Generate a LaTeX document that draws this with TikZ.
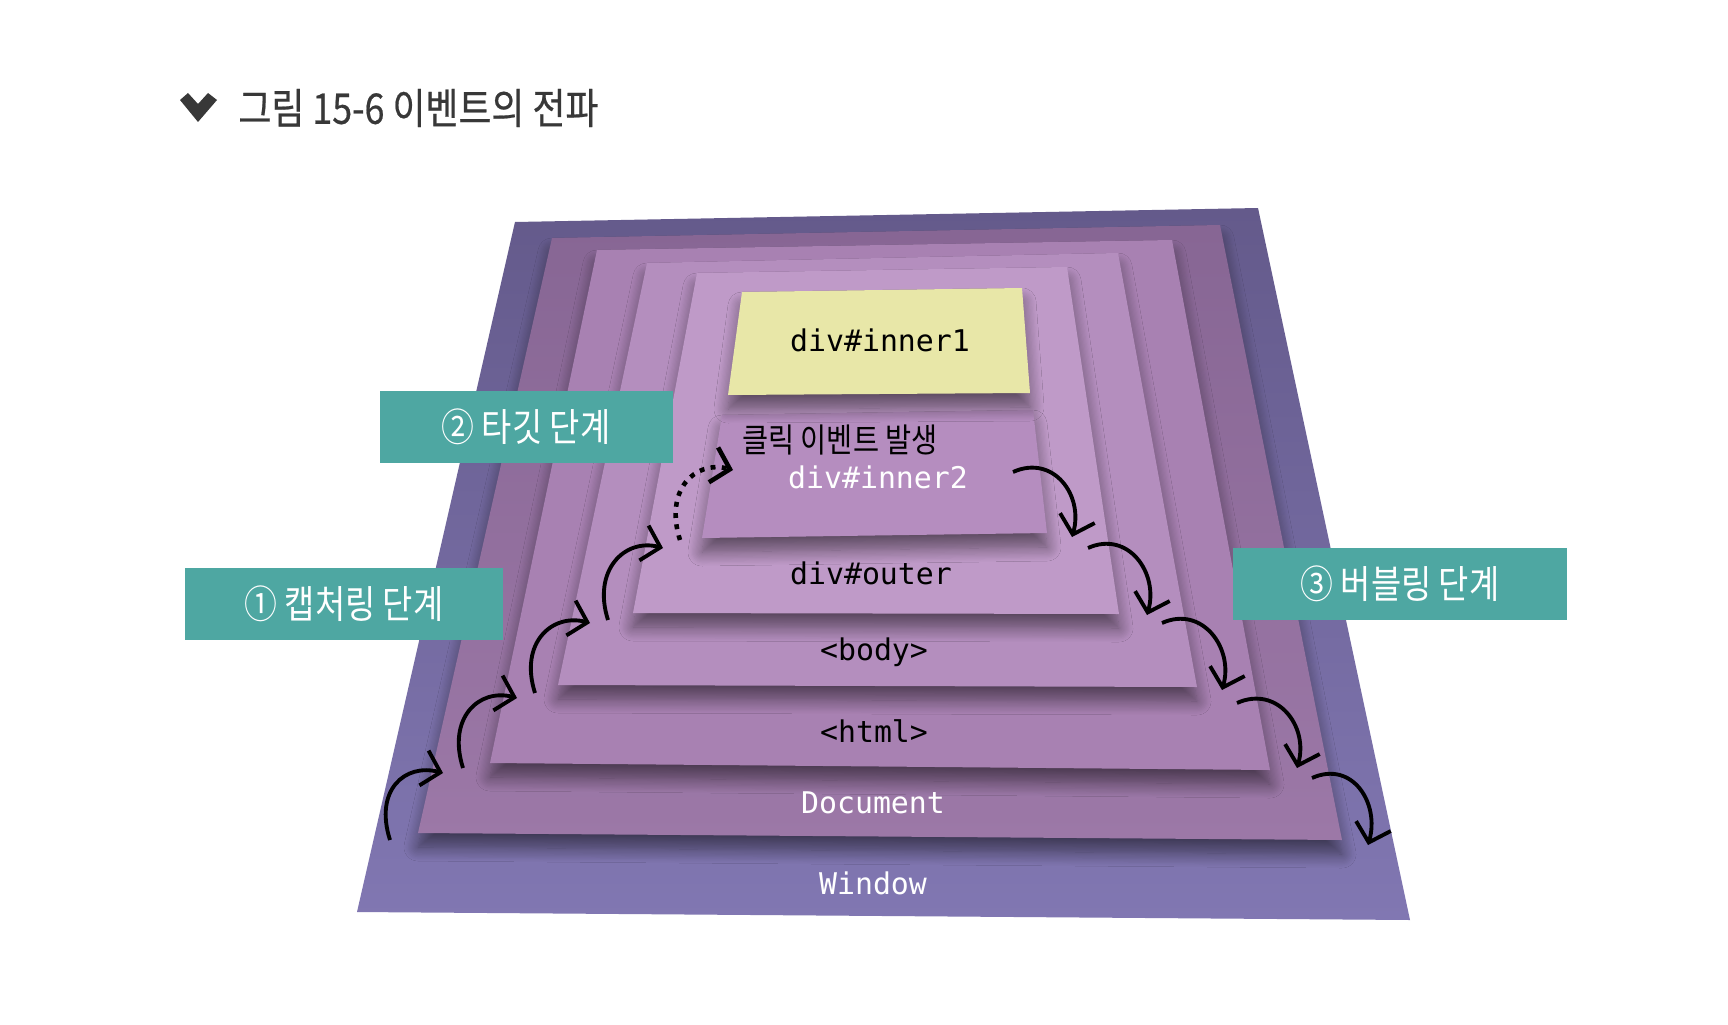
\documentclass[tikz,border=0pt]{standalone}
\usepackage{fontspec}
\setmonofont{DejaVu Sans Mono}
\newfontfamily\kfont{Noto Sans CJK KR}[FakeStretch=0.85]
\newfontfamily\tfont{Noto Sans CJK KR}[FakeStretch=0.85,FakeBold=0.5]
\usepackage{tikz}
\usetikzlibrary{arrows.meta,shadows.blur}

\definecolor{windowc}{HTML}{8177B2}
\definecolor{windowd}{HTML}{645A8B}
\definecolor{documentc}{HTML}{9C78A7}
\definecolor{documentd}{HTML}{876694}
\definecolor{htmlc}{HTML}{A881B2}
\definecolor{bodyc}{HTML}{B48EBE}
\definecolor{outerc}{HTML}{BF9AC8}
\definecolor{innerc}{HTML}{B58DBF}
\definecolor{targetc}{HTML}{E8E7A8}
\definecolor{phasec}{HTML}{4EA7A2}
\definecolor{titlec}{HTML}{383838}

\begin{document}
\begin{tikzpicture}[x=0.1mm,y=-0.1mm,
	layer/.style={blur shadow={shadow xshift=0pt,shadow yshift=-1.4mm,shadow blur radius=1.4mm,shadow blur steps=12,shadow opacity=50}},
	tag/.style={font=\ttfamily\fontsize{8.5}{10}\selectfont},
	phase/.style={fill=phasec,text=white,font=\kfont\fontsize{11}{13}\selectfont,inner sep=0pt,minimum height=7.2mm},
	hop/.style={line width=1.1pt,-{Straight Barb[length=1.7mm,width=3.6mm]}}]
				\fill[white] (0,0) rectangle (1728,1024);
				\useasboundingbox (0,0) rectangle (1728,1024);
				\fill[titlec] (180,100) -- (188,93) -- (198,104) -- (208,93) -- (217,100) -- (198,122) -- cycle;
				\node[anchor=west,text=titlec,font=\tfont\fontsize{12}{14}\selectfont] (title) at (226,108) {그림 15-6 이벤트의 전파};
				\shade[top color=windowd,bottom color=windowc] (515,222) -- (1258,208) -- (1410,920) -- (357,912) -- cycle;
				\shade[top color=documentd,bottom color=documentc,layer] (552,238) -- (1220,225) -- (1342,840) -- (418,833) -- cycle;
				\fill[htmlc,layer] (597,250) -- (1172,240) -- (1270,770) -- (490,763) -- cycle;
				\fill[bodyc,layer] (647,263) -- (1118,253) -- (1197,687) -- (558,685) -- cycle;
				\fill[outerc,layer] (697,273) -- (1067,267) -- (1119,614) -- (633,613) -- cycle;
				\fill[innerc,layer] (722,415) -- (1033,410) -- (1047,533) -- (702,538) -- cycle;
				\fill[targetc,layer] (742,292) -- (1022,288) -- (1030,393) -- (728,395) -- cycle;
				\node[tag] (inner1) at (880,340) {div\#inner1};
				\node[font=\kfont\fontsize{9.5}{11}\selectfont] (click) at (840,440) {클릭 이벤트 발생};
				\node[tag,text=white] (inner2) at (878,477) {div\#inner2};
				\node[tag] (outer) at (871,573) {div\#outer};
				\node[tag] (body) at (874,652) {<body>};
				\node[tag] (html) at (874,731) {<html>};
				\node[tag,text=white] (document) at (873,803) {Document};
				\node[tag,text=white] (window) at (873,883) {Window};
				\node[phase,minimum width=29.3mm] (target) at (526,427) {② 타깃 단계};
				\node[phase,minimum width=31.8mm] (capture) at (344,604) {① 캡처링 단계};
				\node[phase,minimum width=33.4mm] (bubble) at (1400,584) {③ 버블링 단계};
				\coordinate (c1s) at (390,840);
				\coordinate (c1e) at (443,773);
				\coordinate (c2s) at (463,768);
				\coordinate (c2e) at (517,698);
				\coordinate (c3s) at (535,693);
				\coordinate (c3e) at (590,623);
				\coordinate (c4s) at (608,620);
				\coordinate (c4e) at (663,548);
				\coordinate (t1s) at (680,540);
				\coordinate (t1e) at (733,470);
				\coordinate (b1s) at (1013,472);
				\coordinate (b1e) at (1072,537);
				\coordinate (b2s) at (1088,548);
				\coordinate (b2e) at (1147,615);
				\coordinate (b3s) at (1162,623);
				\coordinate (b3e) at (1222,690);
				\coordinate (b4s) at (1237,703);
				\coordinate (b4e) at (1297,768);
				\coordinate (b5s) at (1312,778);
				\coordinate (b5e) at (1368,845);
				\draw[hop] (c1s) .. controls +(-16,-50) and +(-38,-10) .. (c1e);
				\draw[hop] (c2s) .. controls +(-16,-50) and +(-38,-10) .. (c2e);
				\draw[hop] (c3s) .. controls +(-16,-50) and +(-38,-10) .. (c3e);
				\draw[hop] (c4s) .. controls +(-16,-50) and +(-38,-10) .. (c4e);
				\draw[hop,line width=1.3pt,dash pattern=on 1.4pt off 1.8pt] (t1s) .. controls +(-16,-50) and +(-38,-10) .. (t1e);
				\draw[hop] (b1s) .. controls +(40,-18) and +(12,-42) .. (b1e);
				\draw[hop] (b2s) .. controls +(40,-18) and +(12,-42) .. (b2e);
				\draw[hop] (b3s) .. controls +(40,-18) and +(12,-42) .. (b3e);
				\draw[hop] (b4s) .. controls +(40,-18) and +(12,-42) .. (b4e);
				\draw[hop] (b5s) .. controls +(40,-18) and +(12,-42) .. (b5e);
			\end{tikzpicture}
\end{document}
